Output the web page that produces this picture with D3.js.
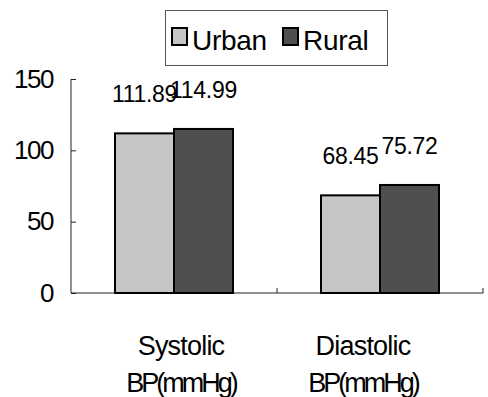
<!DOCTYPE html>
<html>
<head>
<meta charset="utf-8">
<script src="https://cdn.jsdelivr.net/npm/d3@7"></script>
<style>
  html, body { margin: 0; padding: 0; background: #fff; }
  svg { display: block; }
  text { font-family: "Liberation Sans", Arial, sans-serif; fill: #000; }
</style>
</head>
<body>
<svg id="chart" width="488" height="397"></svg>
<script>
// Blood pressure by residence
const categories = [["Systolic", "BP(mmHg)"], ["Diastolic", "BP(mmHg)"]];
const seriesNames = ["Urban", "Rural"];
const urbanValues = [111.89, 68.45];
const ruralValues = [114.99, 75.72];
const yTicks = [0, 50, 100, 150];

const colors = { Urban: "#c6c6c6", Rural: "#4f4f4f" };

const svg = d3.select("#chart");
const plotLeft = 71, plotRight = 483, plotTop = 79, plotBottom = 293;

const x0 = d3.scaleBand()
  .domain(categories.map((c, i) => i))
  .range([plotLeft, plotRight]);
const barW = 59;
const x1 = d3.scaleBand()
  .domain(seriesNames)
  .range([x0.bandwidth() / 2 - barW, x0.bandwidth() / 2 + barW]);
const y = d3.scaleLinear().domain([0, 150]).range([plotBottom, plotTop]);

const rows = categories.map((c, i) => ({
  i,
  values: [
    { key: "Urban", value: urbanValues[i] },
    { key: "Rural", value: ruralValues[i] }
  ]
}));

// y axis
const yAxis = svg.append("g")
  .attr("transform", `translate(${plotLeft},0)`)
  .call(d3.axisLeft(y).tickValues(yTicks).tickSize(-5).tickPadding(18).tickFormat(d3.format("d")));
yAxis.select(".domain").attr("stroke", "#222").attr("d", `M0,${plotTop}V${plotBottom}`);
yAxis.selectAll(".tick line").attr("stroke", "#222");
yAxis.selectAll(".tick text")
  .attr("font-size", 26).attr("letter-spacing", -1.5).attr("fill", "#000")
  .style("font-family", '"Liberation Sans", Arial, sans-serif');

// x axis baseline with category separators
const xAxis = svg.append("g");
xAxis.append("line")
  .attr("x1", plotLeft).attr("x2", plotRight).attr("y1", plotBottom).attr("y2", plotBottom)
  .attr("stroke", "#222");
const bounds = categories.map((c, i) => x0(i)).concat([plotRight]);
xAxis.selectAll("line.sep").data(bounds.slice(1)).join("line")
  .attr("class", "sep")
  .attr("x1", d => d).attr("x2", d => d)
  .attr("y1", plotBottom).attr("y2", plotBottom - 5)
  .attr("stroke", "#222");

// bars
const groups = svg.selectAll("g.group").data(rows).join("g")
  .attr("class", "group")
  .attr("transform", d => `translate(${x0(d.i)},0)`);

groups.selectAll("rect").data(d => d.values).join("rect")
  .attr("x", d => x1(d.key))
  .attr("y", d => y(d.value))
  .attr("width", x1.bandwidth())
  .attr("height", d => y(0) - y(d.value))
  .attr("fill", d => colors[d.key])
  .attr("stroke", "#000")
  .attr("stroke-width", 2);

// value labels
groups.selectAll("text.val").data(d => d.values).join("text")
  .attr("class", "val")
  .attr("x", d => x1(d.key) + x1.bandwidth() / 2)
  .attr("y", d => y(d.value) - 31)
  .attr("text-anchor", "middle")
  .attr("font-size", 23)
  .attr("letter-spacing", -0.3)
  .text(d => d.value.toFixed(2));

// category labels
const labelShift = [7, -17];
const catLabels = svg.selectAll("text.cat").data(categories).join("text")
  .attr("class", "cat")
  .attr("text-anchor", "middle")
  .attr("font-size", 27);
catLabels.each(function (lines, i) {
  const cx = x0(i) + x0.bandwidth() / 2 + labelShift[i];
  const t = d3.select(this);
  t.append("tspan").attr("x", cx).attr("y", 355).attr("letter-spacing", -0.8).text(lines[0]);
  t.append("tspan").attr("x", cx).attr("y", 392).attr("letter-spacing", -3).text(lines[1]);
});

// legend
const legend = svg.append("g");
legend.append("rect")
  .attr("x", 165.5).attr("y", 10.5).attr("width", 222).attr("height", 55)
  .attr("fill", "#fff").attr("stroke", "#555").attr("stroke-width", 1);
const legendX = [172, 283];
const items = legend.selectAll("g.item").data(seriesNames).join("g")
  .attr("class", "item")
  .attr("transform", (d, i) => `translate(${legendX[i]},0)`);
items.append("rect")
  .attr("x", 0).attr("y", 28).attr("width", 15).attr("height", 17)
  .attr("fill", d => colors[d]).attr("stroke", "#000").attr("stroke-width", 2);
items.append("text")
  .attr("x", 20).attr("y", 50)
  .attr("font-size", 28)
  .attr("letter-spacing", -0.3)
  .text(d => d);
</script>
</body>
</html>
